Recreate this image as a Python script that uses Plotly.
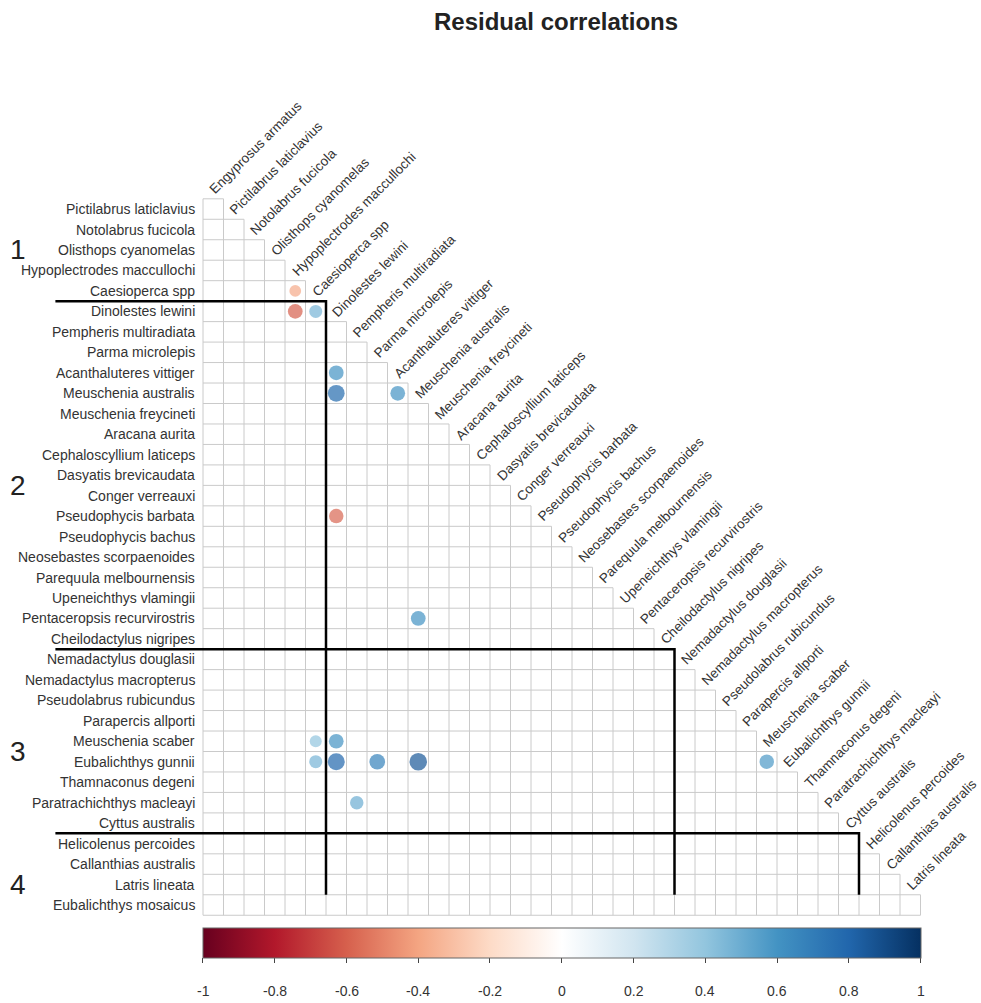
import plotly.graph_objects as go

# Species in cluster order
species = [
    "Engyprosus armatus", "Pictilabrus laticlavius", "Notolabrus fucicola",
    "Olisthops cyanomelas", "Hypoplectrodes maccullochi", "Caesioperca spp",
    "Dinolestes lewini", "Pempheris multiradiata", "Parma microlepis",
    "Acanthaluteres vittiger", "Meuschenia australis", "Meuschenia freycineti",
    "Aracana aurita", "Cephaloscyllium laticeps", "Dasyatis brevicaudata",
    "Conger verreauxi", "Pseudophycis barbata", "Pseudophycis bachus",
    "Neosebastes scorpaenoides", "Parequula melbournensis", "Upeneichthys vlamingii",
    "Pentaceropsis recurvirostris", "Cheilodactylus nigripes", "Nemadactylus douglasii",
    "Nemadactylus macropterus", "Pseudolabrus rubicundus", "Parapercis allporti",
    "Meuschenia scaber", "Eubalichthys gunnii", "Thamnaconus degeni",
    "Paratrachichthys macleayi", "Cyttus australis", "Helicolenus percoides",
    "Callanthias australis", "Latris lineata", "Eubalichthys mosaicus",
]

# Notable residual correlations (row species, column species, r)
pair_row = [
    "Caesioperca spp", "Dinolestes lewini", "Dinolestes lewini",
    "Acanthaluteres vittiger", "Meuschenia australis", "Meuschenia australis",
    "Pseudophycis barbata", "Pentaceropsis recurvirostris",
    "Meuschenia scaber", "Meuschenia scaber",
    "Eubalichthys gunnii", "Eubalichthys gunnii", "Eubalichthys gunnii",
    "Eubalichthys gunnii", "Eubalichthys gunnii", "Paratrachichthys macleayi",
]
pair_col = [
    "Hypoplectrodes maccullochi", "Hypoplectrodes maccullochi", "Caesioperca spp",
    "Dinolestes lewini", "Dinolestes lewini", "Acanthaluteres vittiger",
    "Dinolestes lewini", "Meuschenia australis",
    "Caesioperca spp", "Dinolestes lewini",
    "Caesioperca spp", "Dinolestes lewini", "Parma microlepis",
    "Meuschenia australis", "Meuschenia scaber", "Pempheris multiradiata",
]
pair_r = [
    -0.38, -0.60, 0.47,
    0.60, 0.78, 0.60,
    -0.58, 0.60,
    0.40, 0.60,
    0.47, 0.80, 0.68,
    0.85, 0.58, 0.50,
]

# Last species of clusters 1-3 (cluster 4 runs to the end)
cluster_ends = ["Caesioperca spp", "Cheilodactylus nigripes", "Cyttus australis"]
cluster_names = ["1", "2", "3", "4"]

colorbar_ticks = [-1, -0.8, -0.6, -0.4, -0.2, 0, 0.2, 0.4, 0.6, 0.8, 1]

rdbu = ["#67001F", "#B2182B", "#D6604D", "#F4A582", "#FDDBC7", "#FFFFFF",
        "#D1E5F0", "#92C5DE", "#4393C3", "#2166AC", "#053061"]
colorscale = [[i / (len(rdbu) - 1), c] for i, c in enumerate(rdbu)]

n = len(species) - 1          # rows: species[1:], columns: species[:-1]
rows = species[1:]
cols = species[:-1]
idx = {s: i for i, s in enumerate(species)}

FONT = "Liberation Sans, Arial, sans-serif"
W, H = 981, 1003
CW, CH = 20.5, 20.47          # cell size in px
X0, Y0 = 203.0, 198.8         # top-left of grid in px

# axis ranges so that one data unit = one cell
xr = [-0.5 - X0 / CW, -0.5 - X0 / CW + W / CW]
yr = [-0.5 - Y0 / CH + H / CH, -0.5 - Y0 / CH]

fig = go.Figure()

# lower-triangle grid
gx, gy = [], []
for k in range(n + 1):                       # horizontal lines
    right = min(k, n - 1) + 0.5
    gx += [-0.5, right, None]
    gy += [k - 0.5, k - 0.5, None]
for m in range(n + 1):                       # vertical lines
    top = max(m - 1, 0) - 0.5
    gx += [m - 0.5, m - 0.5, None]
    gy += [top, n - 0.5, None]
fig.add_trace(go.Scatter(x=gx, y=gy, mode="lines",
                         line=dict(color="#CACACA", width=1),
                         hoverinfo="skip", showlegend=False))

# correlation circles
px_ = [idx[c] for c in pair_col]
py_ = [idx[r] - 1 for r in pair_row]
sizes = [19 * abs(v) ** 0.5 for v in pair_r]
fig.add_trace(go.Scatter(
    x=px_, y=py_, mode="markers",
    marker=dict(size=sizes, color=pair_r, colorscale=colorscale, cmin=-1, cmax=1,
                line=dict(width=0),
                colorbar=dict(orientation="h", x=(X0 + n * CW / 2) / W, xanchor="center",
                              y=1 - 928 / H, yanchor="top",
                              lenmode="pixels", len=n * CW, thickness=30,
                              thicknessmode="pixels",
                              outlinewidth=1, outlinecolor="#666666",
                              tickvals=colorbar_ticks, ticks="outside", ticklen=5,
                              tickcolor="#444444", showticklabels=False,
                              xpad=0, ypad=0)),
    hovertemplate="%{marker.color:.2f}<extra></extra>", showlegend=False))

# cluster boundary lines
bx, by = [], []
for name in cluster_ends:
    s = idx[name]
    bx += [-7.7, s + 0.5, s + 0.5, None]
    by += [s - 0.5, s - 0.5, n - 1.5, None]
fig.add_trace(go.Scatter(x=bx, y=by, mode="lines",
                         line=dict(color="black", width=2.5),
                         hoverinfo="skip", showlegend=False))

ann = []
# row labels
for i, name in enumerate(rows):
    ann.append(dict(x=-0.79, y=i, text=name, xanchor="right", yanchor="middle",
                    showarrow=False, font=dict(family=FONT, size=14, color="#333333")))
# column labels along the staircase
for j, name in enumerate(cols):
    ann.append(dict(x=j - 0.45, y=j - 0.45, text=name, textangle=-45,
                    xanchor="left", yanchor="bottom", showarrow=False,
                    font=dict(family=FONT, size=13.5, color="#333333")))
# cluster numbers
starts = [0] + [idx[e] + 1 for e in cluster_ends]
ends = [idx[e] for e in cluster_ends] + [len(species) - 1]
for lab, a, b in zip(cluster_names, starts, ends):
    ann.append(dict(x=xr[0] + 18 / CW, y=(a + b) / 2 - 0.5, text=lab,
                    xanchor="center", yanchor="middle", showarrow=False,
                    font=dict(family=FONT, size=28, color="#222222")))
# colorbar tick labels
for t in colorbar_ticks:
    ann.append(dict(x=(X0 + (t + 1) / 2 * n * CW) / W, y=1 - 991 / H,
                    xref="paper", yref="paper", text=f"{t:g}",
                    xanchor="center", yanchor="middle", showarrow=False,
                    font=dict(family=FONT, size=14, color="#333333")))
# title
ann.append(dict(x=556 / W, y=1 - 21 / H, xref="paper", yref="paper",
                text="<b>Residual correlations</b>", xanchor="center", yanchor="middle",
                showarrow=False, font=dict(family=FONT, size=24, color="#222222")))

fig.update_layout(
    width=W, height=H, margin=dict(l=0, r=0, t=0, b=0),
    paper_bgcolor="white", plot_bgcolor="white",
    xaxis=dict(range=xr, visible=False, fixedrange=True),
    yaxis=dict(range=yr, visible=False, fixedrange=True),
    annotations=ann,
)

fig.write_html("out.html")
